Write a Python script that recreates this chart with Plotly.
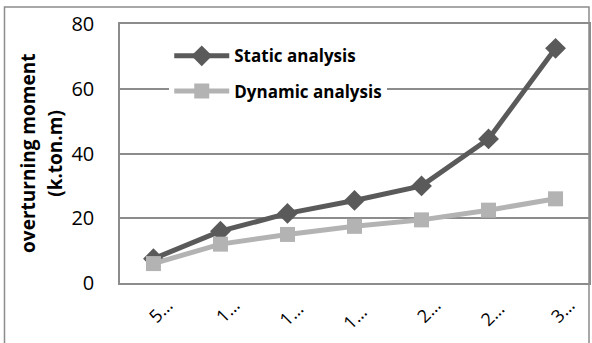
import plotly.graph_objects as go

categories = ["5…", "1…", "1… ", "1…  ", "2…", "2… ", "3…"]
static_vals = [7.5, 16, 21.5, 25.5, 30, 44.5, 72.5]
dynamic_vals = [6, 12, 15, 17.5, 19.5, 22.5, 26]
y_ticks = [0, 20, 40, 60, 80]

FONT = "Open Sans"
fig = go.Figure()
fig.add_trace(go.Scatter(
    x=categories, y=static_vals, name="Static analysis", mode="lines+markers",
    legendgroup="a",
    line=dict(color="#5a5a5a", width=5),
    marker=dict(symbol="diamond", size=16, color="#5a5a5a"),
))
fig.add_trace(go.Scatter(
    x=categories, y=dynamic_vals, name="Dynamic analysis", mode="lines+markers",
    legendgroup="b",
    line=dict(color="#b3b3b3", width=5),
    marker=dict(symbol="square", size=15, color="#b3b3b3"),
))

fig.update_layout(
    width=592, height=343,
    margin=dict(l=120, r=1, t=24, b=60),
    paper_bgcolor="white", plot_bgcolor="white",
    font=dict(family=FONT, color="#000000"),
    showlegend=True,
    legend=dict(
        x=0.105, y=0.945, xanchor="left", yanchor="top",
        bgcolor="white", font=dict(family=FONT, size=17, color="#000000", weight="bold"),
        itemwidth=55, tracegroupgap=10,
    ),
    xaxis=dict(
        type="category", tickangle=-45, tickfont=dict(size=18, family=FONT),
        showgrid=False, showline=True, linecolor="#8c8c8c", linewidth=1.5, mirror=True,
        ticks="", ticklen=0, ticklabelshift=14, ticklabelstandoff=3,
    ),
    yaxis=dict(
        range=[0, 80], tickvals=y_ticks, tickfont=dict(size=20, family=FONT),
        showgrid=True, gridcolor="#8c8c8c", gridwidth=1.5,
        showline=True, linecolor="#8c8c8c", linewidth=1.5, mirror=True,
        ticks="", ticklabelstandoff=20, zeroline=False,
    ),
    shapes=[dict(
        type="rect", xref="paper", yref="paper",
        x0=(4 - 120) / 471, x1=1.0, y0=-0.3, y1=(283 - 7) / 259,
        line=dict(color="#8c8c8c", width=1.5), fillcolor="rgba(0,0,0,0)", layer="below",
    )],
    annotations=[
        dict(text="<b>overturning moment</b>", xref="paper", yref="paper",
             x=(27 - 120) / 471, y=0.5, textangle=-90, showarrow=False,
             font=dict(size=19, family=FONT), xanchor="center", yanchor="middle"),
        dict(text="<b>(k.ton.m)</b>", xref="paper", yref="paper",
             x=(54 - 120) / 471, y=0.5, textangle=-90, showarrow=False,
             font=dict(size=19, family=FONT), xanchor="center", yanchor="middle"),
    ],
)

fig.write_html("out.html", config={"displayModeBar": False},
               post_script="document.body.style.margin='0px';")
